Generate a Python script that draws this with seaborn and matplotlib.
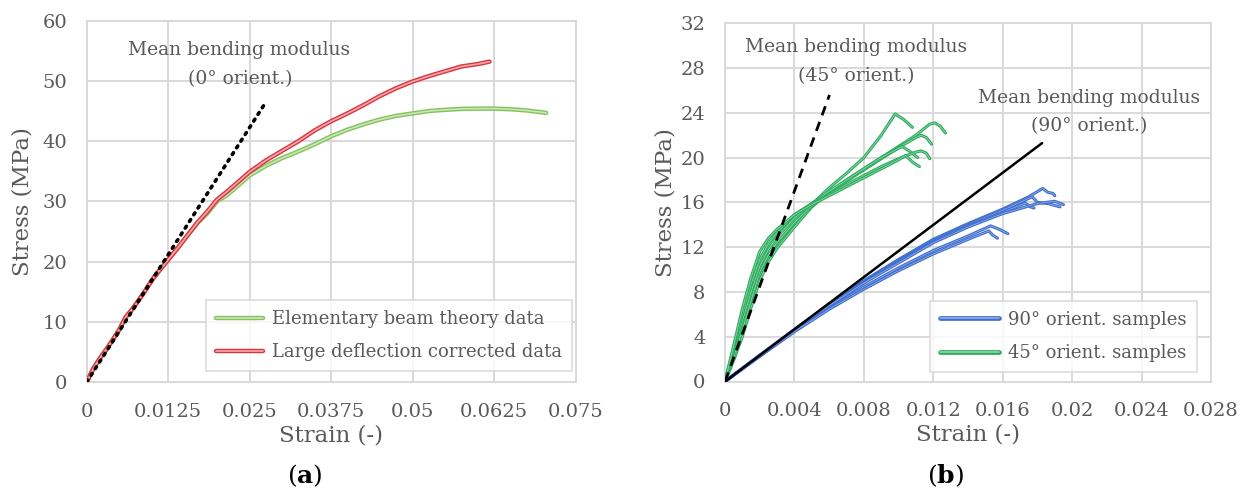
import numpy as np
import pandas as pd
import matplotlib
matplotlib.use("Agg")
import matplotlib.pyplot as plt
import matplotlib.patheffects as pe
from matplotlib.lines import Line2D
import seaborn as sns

# ---------------- data: panel (a) ----------------
ebt_strain = [0, 0.001, 0.002, 0.003, 0.004, 0.005, 0.006, 0.007, 0.008, 0.009, 0.010, 0.011,
              0.0125, 0.014, 0.0155, 0.017, 0.0185, 0.020, 0.0215, 0.023, 0.025, 0.0275, 0.030,
              0.0325, 0.035, 0.0375, 0.040, 0.0425, 0.045, 0.0475, 0.050, 0.0525, 0.055, 0.0575,
              0.060, 0.0625, 0.065, 0.0675, 0.0705]
ebt_stress = [0, 2.2, 3.9, 5.4, 7.0, 8.7, 10.8, 12.1, 13.6, 15.2, 16.9, 18.3,
              20.3, 22.3, 24.4, 26.4, 28.0, 30.0, 31.0, 32.4, 34.3, 35.9, 37.2,
              38.3, 39.5, 40.8, 41.9, 42.8, 43.6, 44.2, 44.6, 45.0, 45.2, 45.35,
              45.4, 45.4, 45.3, 45.1, 44.7]
ldc_strain = [0, 0.001, 0.002, 0.003, 0.004, 0.005, 0.006, 0.007, 0.008, 0.009, 0.010, 0.011,
              0.0125, 0.014, 0.0155, 0.017, 0.0185, 0.020, 0.0215, 0.023, 0.025, 0.0275, 0.030,
              0.0325, 0.035, 0.0375, 0.040, 0.0425, 0.045, 0.0475, 0.050, 0.0525, 0.055, 0.0575,
              0.060, 0.0618]
ldc_stress = [0, 2.2, 3.9, 5.4, 7.0, 8.7, 10.8, 12.1, 13.6, 15.2, 16.9, 18.3,
              20.3, 22.3, 24.4, 26.5, 28.3, 30.3, 31.6, 33.0, 34.9, 36.8, 38.4,
              40.0, 41.8, 43.3, 44.6, 46.0, 47.5, 48.8, 49.9, 50.8, 51.6, 52.4,
              52.8, 53.2]
mod0_strain = [0, 0.0275]
mod0_stress = [0, 46.5]

a_xticks = [0, 0.0125, 0.025, 0.0375, 0.05, 0.0625, 0.075]
a_xticklabels = ["0", "0.0125", "0.025", "0.0375", "0.05", "0.0625", "0.075"]
a_yticks = [0, 10, 20, 30, 40, 50, 60]

# ---------------- data: panel (b) ----------------
# 45 deg samples
g1_strain = [0, 0.0005, 0.001, 0.0015, 0.002, 0.0025, 0.003, 0.004, 0.005, 0.006, 0.007, 0.008, 0.009, 0.0098, 0.0103, 0.0108]
g1_stress = [0, 2.0, 4.3, 6.9, 9.4, 11.0, 12.1, 14.0, 15.8, 17.3, 18.6, 20.0, 22.0, 23.9, 23.4, 22.7]
g2_strain = [0, 0.0005, 0.001, 0.0015, 0.002, 0.0025, 0.003, 0.004, 0.005, 0.006, 0.007, 0.008, 0.009, 0.010, 0.011, 0.0118, 0.0121, 0.0124, 0.0127]
g2_stress = [0, 1.9, 4.0, 6.6, 9.0, 10.7, 11.9, 13.8, 15.6, 16.9, 18.0, 19.0, 20.0, 21.0, 22.0, 23.0, 23.1, 22.8, 22.2]
g3_strain = [0, 0.0005, 0.001, 0.0015, 0.002, 0.0025, 0.003, 0.004, 0.005, 0.006, 0.007, 0.008, 0.009, 0.010, 0.011, 0.0113, 0.0116, 0.0119]
g3_stress = [0, 2.2, 4.6, 7.2, 9.8, 11.3, 12.4, 14.2, 15.7, 16.8, 17.9, 18.9, 19.9, 20.9, 21.8, 22.0, 21.8, 21.2]
g4_strain = [0, 0.0005, 0.001, 0.0015, 0.002, 0.0025, 0.003, 0.004, 0.005, 0.006, 0.007, 0.008, 0.009, 0.0102, 0.0107, 0.0111]
g4_stress = [0, 2.7, 5.4, 8.0, 10.3, 11.8, 12.9, 14.6, 15.9, 17.0, 18.0, 19.0, 20.0, 21.0, 20.5, 20.0]
g5_strain = [0, 0.0005, 0.001, 0.0015, 0.002, 0.0025, 0.003, 0.004, 0.005, 0.006, 0.007, 0.008, 0.009, 0.010, 0.011, 0.0113, 0.0116, 0.0118]
g5_stress = [0, 3.0, 6.0, 8.7, 10.9, 12.3, 13.3, 14.9, 15.9, 16.7, 17.6, 18.4, 19.2, 19.9, 20.5, 20.6, 20.4, 19.9]
g6_strain = [0, 0.0005, 0.001, 0.0015, 0.002, 0.0025, 0.003, 0.004, 0.005, 0.006, 0.007, 0.008, 0.009, 0.010, 0.0104, 0.0108, 0.0112]
g6_stress = [0, 3.2, 6.5, 9.3, 11.6, 12.8, 13.6, 14.9, 15.8, 16.6, 17.4, 18.2, 19.0, 19.8, 20.2, 19.6, 19.2]

# 90 deg samples
b1_strain = [0, 0.002, 0.004, 0.006, 0.008, 0.010, 0.012, 0.014, 0.016, 0.0175, 0.0183, 0.0186, 0.0189, 0.0190]
b1_stress = [0, 2.35, 4.65, 6.9, 9.0, 10.9, 12.7, 14.1, 15.4, 16.5, 17.25, 16.9, 16.8, 16.6]
b2_strain = [0, 0.002, 0.004, 0.006, 0.008, 0.010, 0.012, 0.014, 0.016, 0.0177, 0.0180, 0.0186, 0.0193]
b2_stress = [0, 2.33, 4.62, 6.85, 8.9, 10.8, 12.6, 14.0, 15.3, 16.5, 16.0, 15.9, 15.6]
b3_strain = [0, 0.002, 0.004, 0.006, 0.008, 0.010, 0.012, 0.014, 0.016, 0.0173, 0.0176, 0.0178]
b3_stress = [0, 2.32, 4.6, 6.8, 8.85, 10.7, 12.5, 13.9, 15.1, 15.95, 15.6, 15.5]
b4_strain = [0, 0.002, 0.004, 0.006, 0.008, 0.010, 0.012, 0.014, 0.016, 0.018, 0.0190, 0.0195]
b4_stress = [0, 2.3, 4.58, 6.75, 8.8, 10.6, 12.4, 13.8, 15.0, 15.9, 16.1, 15.8]
b5_strain = [0, 0.002, 0.004, 0.006, 0.008, 0.010, 0.012, 0.014, 0.0153, 0.0158, 0.0163]
b5_stress = [0, 2.28, 4.5, 6.55, 8.45, 10.15, 11.7, 13.0, 13.9, 13.6, 13.2]
b6_strain = [0, 0.002, 0.004, 0.006, 0.008, 0.010, 0.012, 0.014, 0.0152, 0.0154, 0.0157]
b6_stress = [0, 2.25, 4.45, 6.45, 8.25, 9.9, 11.4, 12.7, 13.45, 13.1, 12.8]

mod45_strain = [0, 0.00602]
mod45_stress = [0, 25.6]
mod90_strain = [0, 0.01827]
mod90_stress = [0, 21.3]

b_xticks = [0, 0.004, 0.008, 0.012, 0.016, 0.020, 0.024, 0.028]
b_xticklabels = ["0", "0.004", "0.008", "0.012", "0.016", "0.02", "0.024", "0.028"]
b_yticks = [0, 4, 8, 12, 16, 20, 24, 28, 32]

# ---------------- style ----------------
sns.set_theme(style="white")
plt.rcParams["font.family"] = ["DejaVu Serif"]
plt.rcParams["mathtext.fontset"] = "dejavuserif"

GRAY_TXT = "#595959"
GRID = "#d9d9d9"

fig = plt.figure(figsize=(12.4, 4.92), dpi=100)
axA = fig.add_axes([86.7 / 1240, 1 - 382 / 492, 488.8 / 1240, 361.3 / 492])
axB = fig.add_axes([725 / 1240, 1 - 381.5 / 492, 486 / 1240, 358.2 / 492])


def fx(edge, center, lw_out, lw_in):
    return dict(color=center, linewidth=lw_in,
                path_effects=[pe.Stroke(linewidth=lw_out, foreground=edge), pe.Normal()])


def style_axes(ax, xticks, xlabels, yticks, xlim, ylim):
    ax.set_xlim(*xlim)
    ax.set_ylim(*ylim)
    ax.set_xticks(xticks)
    ax.set_xticklabels(xlabels)
    ax.set_yticks(yticks)
    ax.set_yticklabels([str(v) for v in yticks])
    ax.grid(True, color=GRID, linewidth=1.4)
    ax.set_axisbelow(True)
    for s in ax.spines.values():
        s.set_color(GRID)
        s.set_linewidth(1.4)
    ax.tick_params(axis="both", length=0, labelsize=14, labelcolor=GRAY_TXT)
    ax.tick_params(axis="x", pad=15)
    ax.tick_params(axis="y", pad=14)
    ax.set_xlabel("Strain (-)", fontsize=16.5, color=GRAY_TXT)
    ax.set_ylabel("Stress (MPa)", fontsize=16.5, color=GRAY_TXT)


# ---- panel (a) ----
GREEN_A = ("#86c160", "#c9e8b4")
RED_A = ("#d9353f", "#f6a9ad")
dfa_g = pd.DataFrame({"strain": ebt_strain, "stress": ebt_stress})
dfa_r = pd.DataFrame({"strain": ldc_strain, "stress": ldc_stress})
dfa_m = pd.DataFrame({"strain": mod0_strain, "stress": mod0_stress})

sns.lineplot(data=dfa_g, x="strain", y="stress", ax=axA, sort=False, estimator=None, zorder=3,
             **fx(GREEN_A[0], GREEN_A[1], 3.2, 1.2))
sns.lineplot(data=dfa_r, x="strain", y="stress", ax=axA, sort=False, estimator=None, zorder=4,
             **fx(RED_A[0], RED_A[1], 3.2, 1.2))
sns.lineplot(data=dfa_m, x="strain", y="stress", ax=axA, sort=False, estimator=None, zorder=5,
             color="black", linewidth=2.6, linestyle=(0, (0.6, 1.6)), dash_capstyle="round")
style_axes(axA, a_xticks, a_xticklabels, a_yticks, (0, 0.075), (0, 60))
axA.text(0.0234, 55.1, "Mean bending modulus", ha="center", va="center", fontsize=13.5, color=GRAY_TXT)
axA.text(0.0235, 50.3, "(0° orient.)", ha="center", va="center", fontsize=13.5, color=GRAY_TXT)

hA = [Line2D([], [], **fx(GREEN_A[0], GREEN_A[1], 3.2, 1.2)),
      Line2D([], [], **fx(RED_A[0], RED_A[1], 3.2, 1.2))]
legA = axA.legend(hA, ["Elementary beam theory data", "Large deflection corrected data"],
                  loc="lower right", bbox_to_anchor=(0.993, 0.030), fontsize=13,
                  frameon=True, fancybox=False, edgecolor=GRID, handlelength=2.6,
                  labelspacing=0.85, borderpad=0.55, handletextpad=0.5, borderaxespad=0)
for t in legA.get_texts():
    t.set_color(GRAY_TXT)
legA.get_frame().set_linewidth(1.4)

# ---- panel (b) ----
GREEN_B = ("#2eaa5e", "#8ad9a8")
BLUE_B = ("#3d6ccc", "#8eacea")
green_sets = [(g1_strain, g1_stress), (g2_strain, g2_stress), (g3_strain, g3_stress),
              (g4_strain, g4_stress), (g5_strain, g5_stress), (g6_strain, g6_stress)]
blue_sets = [(b1_strain, b1_stress), (b2_strain, b2_stress), (b3_strain, b3_stress),
             (b4_strain, b4_stress), (b5_strain, b5_stress), (b6_strain, b6_stress)]


def long_df(sets):
    frames = []
    for i, (xs, ys) in enumerate(sets):
        frames.append(pd.DataFrame({"strain": xs, "stress": ys, "sample": i,
                                    "order": np.arange(len(xs))}))
    return pd.concat(frames, ignore_index=True)


dfb_g = long_df(green_sets)
dfb_b = long_df(blue_sets)
sns.lineplot(data=dfb_b, x="strain", y="stress", units="sample", estimator=None, sort=False,
             ax=axB, zorder=3, **fx(BLUE_B[0], BLUE_B[1], 2.2, 0.6))
sns.lineplot(data=dfb_g, x="strain", y="stress", units="sample", estimator=None, sort=False,
             ax=axB, zorder=3, **fx(GREEN_B[0], GREEN_B[1], 2.2, 0.6))
sns.lineplot(data=pd.DataFrame({"strain": mod90_strain, "stress": mod90_stress}),
             x="strain", y="stress", ax=axB, sort=False, estimator=None, zorder=5,
             color="black", linewidth=1.8)
sns.lineplot(data=pd.DataFrame({"strain": mod45_strain, "stress": mod45_stress}),
             x="strain", y="stress", ax=axB, sort=False, estimator=None, zorder=5,
             color="black", linewidth=2.0, linestyle=(0, (3.5, 2.5)))
style_axes(axB, b_xticks, b_xticklabels, b_yticks, (0, 0.028), (0, 32))
axB.text(0.00755, 29.85, "Mean bending modulus", ha="center", va="center", fontsize=13.5, color=GRAY_TXT)
axB.text(0.00755, 27.3, "(45° orient.)", ha="center", va="center", fontsize=13.5, color=GRAY_TXT)
axB.text(0.02095, 25.35, "Mean bending modulus", ha="center", va="center", fontsize=13.5, color=GRAY_TXT)
axB.text(0.0210, 22.8, "(90° orient.)", ha="center", va="center", fontsize=13.5, color=GRAY_TXT)

hB = [Line2D([], [], **fx(BLUE_B[0], BLUE_B[1], 3.4, 1.2)),
      Line2D([], [], **fx(GREEN_B[0], GREEN_B[1], 3.4, 1.2))]
legB = axB.legend(hB, ["90° orient. samples", "45° orient. samples"],
                  loc="lower right", bbox_to_anchor=(0.971, 0.0265), fontsize=13,
                  frameon=True, fancybox=False, edgecolor=GRID, handlelength=3.3,
                  labelspacing=0.85, borderpad=0.55, handletextpad=0.5, borderaxespad=0)
for t in legB.get_texts():
    t.set_color(GRAY_TXT)
legB.get_frame().set_linewidth(1.4)

# axis label positions
for ax, ylab_x in ((axA, -0.108), (axB, -0.100)):
    ax.xaxis.set_label_coords(0.5, -0.118)
    ax.yaxis.set_label_coords(ylab_x, 0.5)

# panel labels
fig.text(305 / 1240, 1 - 476 / 492, r"($\mathbf{a}$)", ha="center", va="center", fontsize=18, color="black")
fig.text(945 / 1240, 1 - 476 / 492, r"($\mathbf{b}$)", ha="center", va="center", fontsize=18, color="black")

fig.savefig("out.png", dpi=100)
